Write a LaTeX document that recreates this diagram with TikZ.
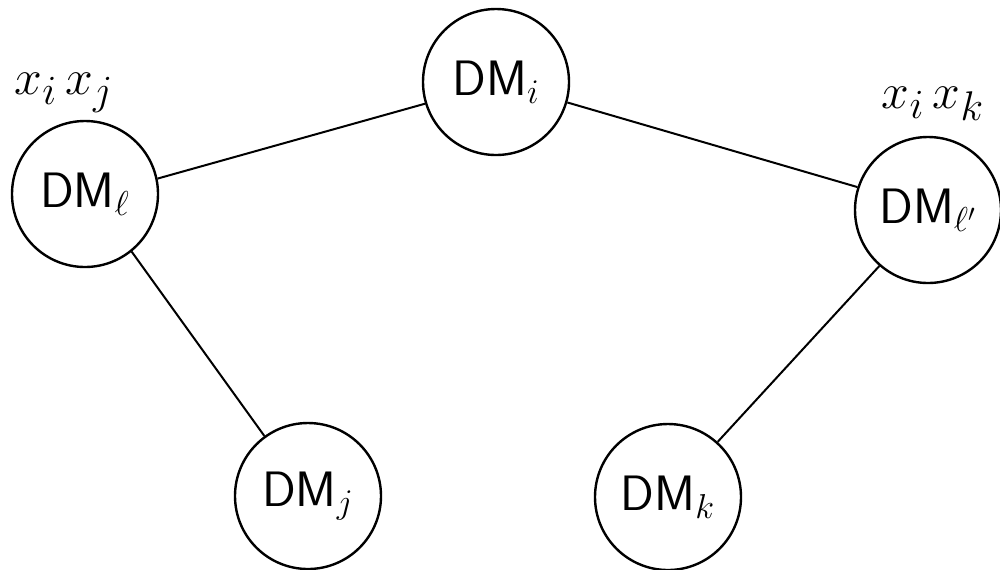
\documentclass[tikz,border=0pt]{standalone}
\begin{document}
\begin{tikzpicture}[x=0.5pt,y=-0.5pt,
  dm/.style={circle,draw,line width=1.2pt,minimum size=73pt,inner sep=0pt,
    font=\fontsize{24}{28}\selectfont},
  lab/.style={inner sep=0pt,font=\fontsize{30}{34}\selectfont},
  link/.style={line width=1pt}]
\useasboundingbox (0,0) rectangle (1000,569);
\node[dm] (i)  at (496,82)  {$\mathsf{DM}_i$};
\node[dm] (l)  at (85,194)  {$\mathsf{DM}_\ell$};
\node[dm] (lp) at (928,210) {$\mathsf{DM}_{\ell'}$};
\node[dm] (j)  at (308,496) {$\mathsf{DM}_j$};
\node[dm] (k)  at (668,497) {$\mathsf{DM}_k$};
\node[lab] (xij) at (64,93)  {$x_i\,x_j$};
\node[lab] (xik) at (933,104) {$x_i\,x_k$};
\draw[link] (l.12) -- (i.-163);
\draw[link] (i.-16) -- (lp.162);
\draw[link] (l.-51) -- (j.126);
\draw[link] (lp.-131) -- (k.48);
\end{tikzpicture}
\end{document}
